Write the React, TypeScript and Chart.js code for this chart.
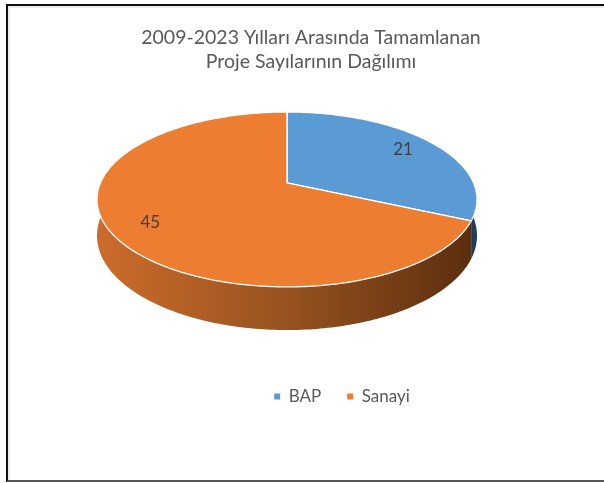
import React, { useEffect, useRef } from 'react';
import { Chart, registerables } from 'chart.js';

Chart.register(...registerables);

// ---- data ----
const titleLines = ['2009-2023 Yılları Arasında Tamamlanan', 'Proje Sayılarının Dağılımı'];
const categories = ['BAP', 'Sanayi'];
const values = [21, 45];
const topColors = ['#5B9BD5', '#ED7D31'];
const wallColors = [
  ['#5A92C6', '#3D6C98', '#1F3C5A'],
  ['#CC6C2C', '#97521F', '#5A2D0E'],
];

// ---- style constants ----
const FONT = 'Lato, "Open Sans", sans-serif';
const PERSPECTIVE = 0.1886;
const TILT = 0.452;
const DEPTH = 0.1876;
const LABEL_R = 0.8;
const TITLE_SHIFT = 24;
const LEGEND_SHIFT = 55;

const pie3d = {
  id: 'pie3d',
  afterUpdate(chart: any) {
    const t = chart.titleBlock;
    if (t) {
      t.left += TITLE_SHIFT;
      t.right += TITLE_SHIFT;
    }
    const l = chart.legend;
    if (l) {
      l.left += LEGEND_SHIFT;
      l.right += LEGEND_SHIFT;
      if (l.adjustHitBoxes) l.adjustHitBoxes();
    }
  },
  beforeDatasetsDraw(chart: any) {
    const ctx: CanvasRenderingContext2D = chart.ctx;
    const meta = chart.getDatasetMeta(0);
    const area = chart.chartArea;
    const halfW = (area.right - area.left) / 2;
    const R = halfW * Math.sqrt(1 - PERSPECTIVE * PERSPECTIVE);
    const cx = (area.left + area.right) / 2;
    const cy = area.top + (R * TILT) / (1 + PERSPECTIVE);
    const proj = (theta: number, f: number, z: number) => {
      const u = Math.cos(theta) * f;
      const v = -Math.sin(theta) * f;
      const s = 1 / (1 + PERSPECTIVE * v);
      return [cx + R * u * s, cy - R * TILT * v * s + R * DEPTH * z * s];
    };
    const arcs = meta.data.map((a: any) => a.getProps(['startAngle', 'endAngle'], true));

    ctx.save();
    // side walls
    arcs.forEach((a: any, i: number) => {
      const n = Math.max(8, Math.ceil((a.endAngle - a.startAngle) * 60));
      ctx.beginPath();
      for (let k = 0; k <= n; k++) {
        const th = a.startAngle + ((a.endAngle - a.startAngle) * k) / n;
        const p = proj(th, 1, 0);
        if (k === 0) ctx.moveTo(p[0], p[1]);
        else ctx.lineTo(p[0], p[1]);
      }
      for (let k = n; k >= 0; k--) {
        const th = a.startAngle + ((a.endAngle - a.startAngle) * k) / n;
        const p = proj(th, 1, 1);
        ctx.lineTo(p[0], p[1]);
      }
      ctx.closePath();
      const g = ctx.createLinearGradient(cx - halfW, 0, cx + halfW, 0);
      g.addColorStop(0, wallColors[i][0]);
      g.addColorStop(0.5, wallColors[i][1]);
      g.addColorStop(1, wallColors[i][2]);
      ctx.fillStyle = g;
      ctx.fill();
    });
    // top faces
    arcs.forEach((a: any, i: number) => {
      const n = Math.max(8, Math.ceil((a.endAngle - a.startAngle) * 60));
      ctx.beginPath();
      const c = proj(0, 0, 0);
      ctx.moveTo(c[0], c[1]);
      for (let k = 0; k <= n; k++) {
        const th = a.startAngle + ((a.endAngle - a.startAngle) * k) / n;
        const p = proj(th, 1, 0);
        ctx.lineTo(p[0], p[1]);
      }
      ctx.closePath();
      ctx.fillStyle = topColors[i];
      ctx.fill();
      ctx.lineWidth = 1.3;
      ctx.strokeStyle = '#FFFFFF';
      ctx.lineJoin = 'round';
      ctx.stroke();
    });
    // data labels
    ctx.font = `17px ${FONT}`;
    ctx.fillStyle = '#404040';
    ctx.textAlign = 'center';
    ctx.textBaseline = 'middle';
    arcs.forEach((a: any, i: number) => {
      const mid = (a.startAngle + a.endAngle) / 2;
      const p = proj(mid, LABEL_R, 0);
      ctx.fillText(String(chart.data.datasets[0].data[i]), p[0], p[1]);
    });
    ctx.restore();
    return false;
  },
};

export default function App() {
  const ref = useRef<HTMLCanvasElement | null>(null);
  useEffect(() => {
    if (!ref.current) return;
    const chart = new Chart(ref.current, {
      type: 'pie',
      data: {
        labels: categories,
        datasets: [
          {
            data: values,
            backgroundColor: topColors,
            borderWidth: 0,
          },
        ],
      },
      options: {
        responsive: false,
        animation: false,
        layout: { padding: { left: 97, right: 127, top: 0, bottom: 68 } },
        plugins: {
          title: {
            display: true,
            text: titleLines,
            color: '#595959',
            font: { family: FONT, size: 19.5, weight: 'normal', lineHeight: '24px' },
            padding: { top: 26, bottom: 38 },
          },
          legend: {
            display: true,
            position: 'bottom',
            labels: {
              color: '#595959',
              font: { family: FONT, size: 17 },
              boxWidth: 6,
              boxHeight: 6,
              padding: 26,
            },
          },
          tooltip: { enabled: false },
        },
      },
      plugins: [pie3d as any],
    });
    return () => chart.destroy();
  }, []);

  return (
    <div style={{ position: 'fixed', left: 0, top: 0, width: 604, height: 483, background: '#fff', overflow: 'hidden' }}>
      <div
        style={{
          position: 'absolute',
          left: 6,
          top: 4,
          width: 640,
          height: 474,
          borderLeft: '2px solid #111',
          borderTop: '2px solid #111',
          borderBottom: '2px solid #555',
          boxShadow: 'inset 2px 2px 0 #ececec',
        }}
      />
      <canvas ref={ref} width={604} height={483} style={{ position: 'absolute', left: 0, top: 0 }} />
    </div>
  );
}
